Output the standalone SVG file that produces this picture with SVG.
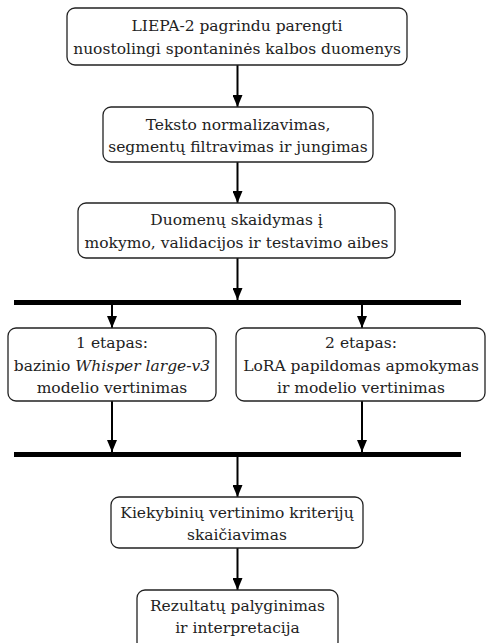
<svg xmlns="http://www.w3.org/2000/svg" width="487" height="643" viewBox="0 0 487 643">
<style>
.box{fill:#fff;stroke:#222;stroke-width:1.3}
.t{font-family:"DejaVu Serif","Liberation Serif",serif;font-size:15.5px;fill:#222;text-anchor:middle}
.c{stroke:#000;stroke-width:2;fill:none;marker-end:url(#ah)}
.bar{fill:#000}
</style>
<defs>
<marker id="ah" viewBox="0 0 12 10" refX="12" refY="5" markerWidth="12" markerHeight="10" markerUnits="userSpaceOnUse" orient="auto">
<path d="M0,0 L12,5 L0,10 Z" fill="#000"/>
</marker>
</defs>
<rect width="487" height="643" fill="#fff"/>
<g id="connectors">
<line class="c" x1="237.5" y1="65" x2="237.5" y2="107"/>
<line class="c" x1="237.5" y1="162" x2="237.5" y2="203"/>
<line class="c" x1="237.5" y1="258" x2="237.5" y2="300"/>
<rect class="bar" x="14" y="300" width="447" height="5"/>
<line class="c" x1="112" y1="305" x2="112" y2="328"/>
<line class="c" x1="362" y1="305" x2="362" y2="328"/>
<line class="c" x1="112" y1="401" x2="112" y2="452"/>
<line class="c" x1="362" y1="401" x2="362" y2="452"/>
<rect class="bar" x="14" y="452" width="447" height="5"/>
<line class="c" x1="237.5" y1="457" x2="237.5" y2="497"/>
<line class="c" x1="237.5" y1="548" x2="237.5" y2="590"/>
</g>
<g id="n1">
<rect class="box" x="67" y="8" width="340" height="57" rx="8"/>
<text class="t" x="237" y="31">LIEPA-2 pagrindu parengti</text>
<text class="t" x="237" y="54">nuostolingi spontaninės kalbos duomenys</text>
</g>
<g id="n2">
<rect class="box" x="103" y="107" width="270" height="55" rx="8"/>
<text class="t" x="238" y="130">Teksto normalizavimas,</text>
<text class="t" x="238" y="152">segmentų filtravimas ir jungimas</text>
</g>
<g id="n3">
<rect class="box" x="78" y="203" width="317" height="55" rx="8"/>
<text class="t" x="236.5" y="225">Duomenų skaidymas į</text>
<text class="t" x="236.5" y="248">mokymo, validacijos ir testavimo aibes</text>
</g>
<g id="n4">
<rect class="box" x="8" y="328" width="208" height="73" rx="8"/>
<text class="t" x="112" y="348">1 etapas:</text>
<text class="t" x="112" y="371">bazinio <tspan font-style="italic">Whisper large-v3</tspan></text>
<text class="t" x="112" y="393">modelio vertinimas</text>
</g>
<g id="n5">
<rect class="box" x="236" y="328" width="249" height="73" rx="8"/>
<text class="t" x="361" y="348">2 etapas:</text>
<text class="t" x="361" y="371">LoRA papildomas apmokymas</text>
<text class="t" x="361" y="393">ir modelio vertinimas</text>
</g>
<g id="n6">
<rect class="box" x="111" y="497" width="252" height="51" rx="8"/>
<text class="t" x="237" y="518">Kiekybinių vertinimo kriterijų</text>
<text class="t" x="237" y="540">skaičiavimas</text>
</g>
<g id="n7">
<rect class="box" x="137" y="590" width="201" height="60" rx="8"/>
<text class="t" x="237.5" y="611">Rezultatų palyginimas</text>
<text class="t" x="237.5" y="633">ir interpretacija</text>
</g>
</svg>
